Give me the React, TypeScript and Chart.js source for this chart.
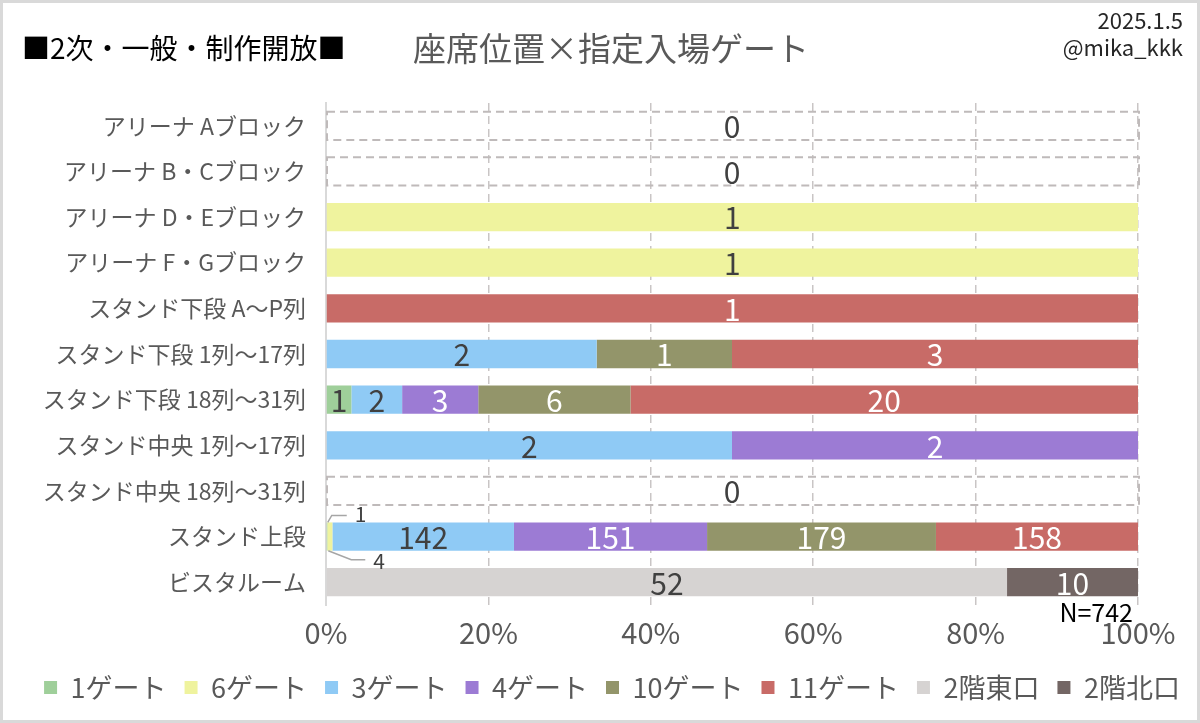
import React, { useEffect, useRef } from 'react';
import { Chart, registerables } from 'chart.js';

Chart.register(...registerables);

const FONT = '"Noto Sans CJK JP", "Noto Sans", sans-serif';

// rows, top to bottom
const categories = [
  'アリーナ Aブロック',
  'アリーナ B・Cブロック',
  'アリーナ D・Eブロック',
  'アリーナ F・Gブロック',
  'スタンド下段 A～P列',
  'スタンド下段 1列～17列',
  'スタンド下段 18列～31列',
  'スタンド中央 1列～17列',
  'スタンド中央 18列～31列',
  'スタンド上段',
  'ビスタルーム',
];

const seriesNames = ['1ゲート', '6ゲート', '3ゲート', '4ゲート', '10ゲート', '11ゲート', '2階東口', '2階北口'];
const seriesColors = ['#9FCF9A', '#EFF39E', '#8FCAF5', '#9C7BD4', '#93956A', '#C86B67', '#D6D3D2', '#736664'];
const whiteLabel = [false, false, false, true, true, true, false, true];

const gate1 = [0, 0, 0, 0, 0, 0, 1, 0, 0, 1, 0];
const gate6 = [0, 0, 1, 1, 0, 0, 0, 0, 0, 4, 0];
const gate3 = [0, 0, 0, 0, 0, 2, 2, 2, 0, 142, 0];
const gate4 = [0, 0, 0, 0, 0, 0, 3, 2, 0, 151, 0];
const gate10 = [0, 0, 0, 0, 0, 1, 6, 0, 0, 179, 0];
const gate11 = [0, 0, 0, 0, 1, 3, 20, 0, 0, 158, 0];
const east2 = [0, 0, 0, 0, 0, 0, 0, 0, 0, 0, 52];
const north2 = [0, 0, 0, 0, 0, 0, 0, 0, 0, 0, 10];

const seriesCounts = [gate1, gate6, gate3, gate4, gate10, gate11, east2, north2];
const rowTotals = categories.map((_, i) => seriesCounts.reduce((s, arr) => s + arr[i], 0));
const grandTotal = rowTotals.reduce((a, b) => a + b, 0);

const labelPlugin = {
  id: 'labelPlugin',
  beforeDatasetsDraw(chart: any) {
    const ctx = chart.ctx;
    const xs = chart.scales.x;
    const meta = chart.getDatasetMeta(0);
    ctx.save();
    ctx.setLineDash([8, 5]);
    ctx.strokeStyle = '#BFBABA';
    ctx.lineWidth = 2;
    rowTotals.forEach((t, i) => {
      if (t !== 0) return;
      const el = meta.data[i];
      const x0 = xs.getPixelForValue(0);
      const x1 = xs.getPixelForValue(100);
      ctx.strokeRect(x0 + 1, el.y - el.height / 2, x1 - x0, el.height);
    });
    ctx.restore();
  },
  afterDatasetsDraw(chart: any) {
    const ctx = chart.ctx;
    const xs = chart.scales.x;
    ctx.save();
    ctx.textAlign = 'center';
    ctx.textBaseline = 'middle';
    const narrowCount = categories.map(() => 0);
    chart.data.datasets.forEach((_ds: any, di: number) => {
      const meta = chart.getDatasetMeta(di);
      meta.data.forEach((el: any, i: number) => {
        const count = seriesCounts[di][i];
        if (!count) return;
        const w = Math.abs(el.x - el.base);
        if (w < 12) {
          // small slice: callout with leader line
          const top = el.y - el.height / 2;
          const bottom = el.y + el.height / 2;
          const b = Math.min(el.x, el.base);
          ctx.strokeStyle = '#A6A6A6';
          ctx.lineWidth = 1.5;
          ctx.setLineDash([]);
          ctx.beginPath();
          ctx.font = `21px ${FONT}`;
          ctx.fillStyle = '#404040';
          ctx.textAlign = 'left';
          if (narrowCount[i] === 0) {
            ctx.moveTo(b + 1, top);
            ctx.lineTo(b + 5, top - 7);
            ctx.lineTo(b + 20, top - 7);
            ctx.stroke();
            ctx.fillText(String(count), b + 28, top - 8);
          } else {
            ctx.moveTo(b + 1, bottom);
            ctx.lineTo(b + 24, bottom + 9);
            ctx.lineTo(b + 38, bottom + 9);
            ctx.stroke();
            ctx.fillText(String(count), b + 46, bottom + 10);
          }
          ctx.textAlign = 'center';
          narrowCount[i]++;
          return;
        }
        ctx.font = `30px ${FONT}`;
        ctx.fillStyle = whiteLabel[di] ? '#FFFFFF' : '#404040';
        ctx.fillText(String(count), (el.x + el.base) / 2, el.y + 1);
      });
    });
    // zero rows
    const meta0 = chart.getDatasetMeta(0);
    ctx.font = `30px ${FONT}`;
    ctx.fillStyle = '#404040';
    rowTotals.forEach((t, i) => {
      if (t !== 0) return;
      ctx.fillText('0', xs.getPixelForValue(50), meta0.data[i].y + 1);
    });
    ctx.restore();
  },
};

const App: React.FC = () => {
  const canvasRef = useRef<HTMLCanvasElement>(null);

  useEffect(() => {
    document.body.style.margin = '0';
    if (!canvasRef.current) return;

    const datasets = seriesNames.map((name, si) => ({
      label: name,
      data: seriesCounts[si].map((v, i) => (rowTotals[i] ? (v / rowTotals[i]) * 100 : 0)),
      backgroundColor: seriesColors[si],
      borderWidth: 0,
      categoryPercentage: 0.62,
      barPercentage: 1,
    }));

    const chart = new Chart(canvasRef.current, {
      type: 'bar',
      data: { labels: categories, datasets },
      plugins: [labelPlugin],
      options: {
        indexAxis: 'y',
        animation: false,
        responsive: true,
        maintainAspectRatio: false,
        layout: { padding: { left: 24, right: 0, top: 103, bottom: 12 } },
        scales: {
          x: {
            stacked: true,
            min: 0,
            max: 100,
            ticks: {
              stepSize: 20,
              padding: 11,
              color: '#595959',
              font: { family: FONT, size: 29 },
              callback: (v: any) => `${v}%`,
            },
            grid: {
              color: (c: any) => (c.index === 0 ? 'rgba(0,0,0,0)' : '#C9C5C5'),
              lineWidth: 1.5,
              drawTicks: false,
            },
            border: { display: false, dash: [8, 5] },
            afterFit: (s: any) => {
              s.height = 51;
            },
          },
          y: {
            stacked: true,
            ticks: {
              padding: 20,
              color: '#595959',
              font: { family: FONT, size: 23 },
            },
            grid: { drawOnChartArea: false, drawTicks: false },
            border: { display: true, color: '#D9D9D9', width: 2 },
            afterFit: (s: any) => {
              s.width = 302;
            },
          },
          // empty spacer on the right so the legend can stay full width
          spacer: {
            type: 'linear',
            axis: 'y',
            position: 'right',
            display: true,
            ticks: { display: false },
            grid: { display: false },
            border: { display: false },
            afterFit: (s: any) => {
              s.width = 62;
            },
          },
        },
        plugins: {
          legend: {
            position: 'bottom',
            labels: {
              color: '#595959',
              font: { family: FONT, size: 27 },
              boxWidth: 13,
              boxHeight: 13,
              padding: 18,
            },
          },
          tooltip: { enabled: false },
        },
      },
    });

    return () => chart.destroy();
  }, []);

  const text = (style: React.CSSProperties): React.CSSProperties => ({
    position: 'absolute',
    fontFamily: FONT,
    lineHeight: 1,
    whiteSpace: 'nowrap',
    ...style,
  });

  return (
    <div style={{ position: 'relative', width: 1200, height: 723, background: '#fff', overflow: 'hidden' }}>
      <canvas ref={canvasRef} />
      <div style={text({ left: 22, top: 33, fontSize: 28, color: '#000' })}>■2次・一般・制作開放■</div>
      <div style={text({ left: 611, top: 31, fontSize: 33, color: '#595959', transform: 'translateX(-50%)' })}>
        座席位置×指定入場ゲート
      </div>
      <div style={text({ right: 17, top: 8, fontSize: 22, color: '#262626' })}>2025.1.5</div>
      <div style={text({ right: 17, top: 35, fontSize: 22, color: '#262626' })}>@mika_kkk</div>
      <div style={text({ right: 67, top: 599, fontSize: 25, color: '#000' })}>N={grandTotal}</div>
      <div
        style={{
          position: 'absolute',
          inset: 0,
          border: '3px solid #D9D9D9',
          boxSizing: 'border-box',
          pointerEvents: 'none',
        }}
      />
    </div>
  );
};

export default App;
